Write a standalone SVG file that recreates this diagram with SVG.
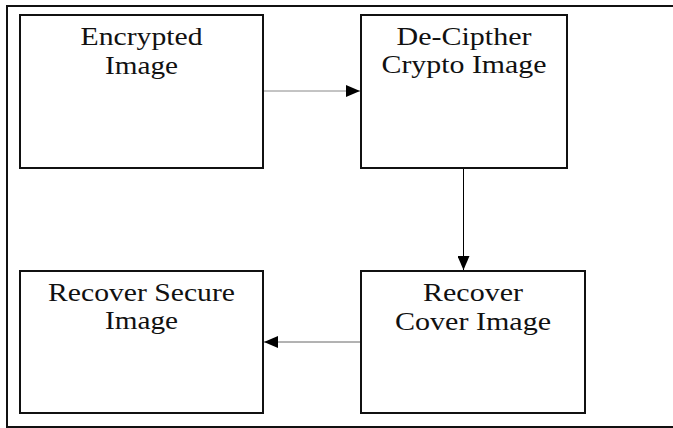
<svg xmlns="http://www.w3.org/2000/svg" width="673" height="428" viewBox="0 0 673 428">
<style>
.box{fill:#fff;stroke:#111;stroke-width:2}
.lbl{font-family:"Liberation Serif","Times New Roman",serif;font-size:25px;fill:#111;text-anchor:middle}
.conn{fill:none;stroke-width:1}
</style>
<defs>
<marker id="ah" markerWidth="14" markerHeight="12" refX="14" refY="6" orient="auto" markerUnits="userSpaceOnUse">
<path d="M0,0 L14,6 L0,12 Z" fill="#000"/>
</marker>
</defs>
<rect width="673" height="428" fill="#fff"/>
<path d="M673,6 H7 V427 H673" fill="none" stroke="#111" stroke-width="2"/>
<g id="connectors">
<line class="conn" x1="263" y1="91" x2="360" y2="91" stroke="#888" marker-end="url(#ah)"/>
<line class="conn" x1="463.5" y1="168" x2="463.5" y2="270" stroke="#000" marker-end="url(#ah)"/>
<line class="conn" x1="361" y1="342" x2="264" y2="342" stroke="#666" marker-end="url(#ah)"/>
</g>
<g id="encrypted">
<rect class="box" x="20" y="15" width="243" height="153"/>
<text class="lbl" x="141.5" y="45" textLength="122" lengthAdjust="spacingAndGlyphs">Encrypted</text>
<text class="lbl" x="141.5" y="74" textLength="73" lengthAdjust="spacingAndGlyphs">Image</text>
</g>
<g id="decipher">
<rect class="box" x="361" y="15" width="206" height="153"/>
<text class="lbl" x="464" y="45" textLength="135" lengthAdjust="spacingAndGlyphs">De-Cipther</text>
<text class="lbl" x="464" y="73" textLength="165" lengthAdjust="spacingAndGlyphs">Crypto Image</text>
</g>
<g id="recover-secure">
<rect class="box" x="20" y="271" width="243" height="142"/>
<text class="lbl" x="141.5" y="301" textLength="187" lengthAdjust="spacingAndGlyphs">Recover Secure</text>
<text class="lbl" x="141.5" y="329" textLength="73" lengthAdjust="spacingAndGlyphs">Image</text>
</g>
<g id="recover-cover">
<rect class="box" x="361" y="271" width="224" height="142"/>
<text class="lbl" x="473" y="301" textLength="100" lengthAdjust="spacingAndGlyphs">Recover</text>
<text class="lbl" x="473" y="330" textLength="156" lengthAdjust="spacingAndGlyphs">Cover Image</text>
</g>
</svg>
